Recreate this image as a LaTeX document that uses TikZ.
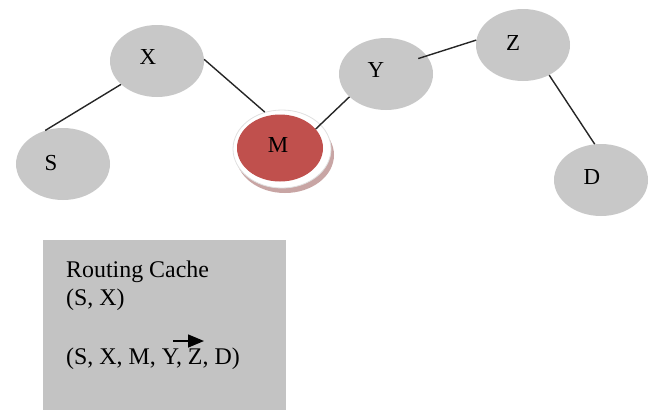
\documentclass[tikz,border=0pt]{standalone}
\usepackage{fontspec}
\setmainfont{Liberation Serif}
\usetikzlibrary{shapes.geometric,arrows.meta}

\definecolor{hostgray}{HTML}{C8C8C8}
\definecolor{cachegray}{HTML}{C3C3C3}
\definecolor{attacker}{HTML}{C0504D}
\definecolor{edgeline}{HTML}{262626}

\begin{document}
\begin{tikzpicture}[x=1bp,y=-1bp,
  host/.style={ellipse, fill=hostgray, minimum width=94bp, minimum height=72bp, inner sep=0pt},
  tag/.style={font=\fontsize{23}{27}\selectfont, inner sep=0pt},
  cachetext/.style={font=\fontsize{24}{28}\selectfont, inner sep=0pt, anchor=base west},
  link/.style={draw=edgeline, line width=1.4bp},
]
\useasboundingbox (0,0) rectangle (654,410);

% hosts along the route
\node[host] (S) at (63,164) {};
\node[host] (X) at (157,61) {};
\node[host] (Y) at (386,74) {};
\node[host] (Z) at (523,45) {};
\node[host] (D) at (601,180) {};

% malicious node M with its white ring and soft shadow
\node[ellipse, fill=attacker!70!black, opacity=0.45, minimum width=98bp, minimum height=76bp, inner sep=0pt] (Mshadow) at (285,155) {};
\node[ellipse, fill=white, draw=black!12, line width=0.8bp, minimum width=98bp, minimum height=78bp, inner sep=0pt] (Mring) at (282,149) {};
\node[ellipse, fill=attacker, minimum width=86bp, minimum height=67bp, inner sep=0pt] (M) at (280,148) {};

% host labels
\node[tag] (Sl) at (51,163) {S};
\node[tag] (Xl) at (148,57) {X};
\node[tag] (Ml) at (278,145) {M};
\node[tag] (Yl) at (376,70) {Y};
\node[tag] (Zl) at (513,43) {Z};
\node[tag] (Dl) at (592,177) {D};

% links between neighbours
\draw[link] (S.118) -- (X.213);
\draw[link] (X.2) -- (Mring.115);
\draw[link] (M.28) -- (Y.212);
\draw[link, shorten <=-9bp] (Y.24) -- (Z.174);
\draw[link] (Z.-49) -- (D.100);

% routing cache panel
\node[fill=cachegray, minimum width=243bp, minimum height=170bp, inner sep=0pt] (cache) at (164.5,325) {};
\node[cachetext] (c1) at (66,277) {Routing Cache};
\node[cachetext] (c2) at (66,305) {(S, X)};
\node[cachetext] (c3) at (66,364) {(S, X, M, Y, Z, D)};

% arrow over the Y, Z entries
\coordinate (a0) at (173,341);
\coordinate (a1) at (204,341);
\draw[line width=1.5bp, -{Triangle[length=16bp,width=13bp]}] (a0) -- (a1);
\end{tikzpicture}
\end{document}
